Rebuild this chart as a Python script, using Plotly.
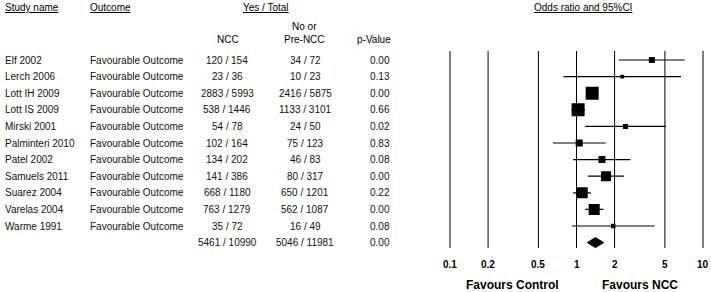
import math
import plotly.graph_objects as go

# ---------------- data ----------------
studies = ["Elf 2002", "Lerch 2006", "Lott IH 2009", "Lott IS 2009", "Mirski 2001",
           "Palminteri 2010", "Patel 2002", "Samuels 2011", "Suarez 2004",
           "Varelas 2004", "Warme 1991"]
outcomes = ["Favourable Outcome"] * 11
ncc_counts = ["120 / 154", "23 / 36", "2883 / 5993", "538 / 1446", "54 / 78",
              "102 / 164", "134 / 202", "141 / 386", "668 / 1180", "763 / 1279",
              "35 / 72", "5461 / 10990"]
pre_counts = ["34 / 72", "10 / 23", "2416 / 5875", "1133 / 3101", "24 / 50",
              "75 / 123", "46 / 83", "80 / 317", "650 / 1201", "562 / 1087",
              "16 / 49", "5046 / 11981"]
p_values = ["0.00", "0.13", "0.00", "0.66", "0.02", "0.83", "0.08", "0.00",
            "0.22", "0.00", "0.08", "0.00"]
odds_ratio = [3.94, 2.30, 1.33, 1.03, 2.44, 1.05, 1.59, 1.71, 1.11, 1.38, 1.95]
ci_lower = [2.16, 0.79, 1.23, 0.91, 1.17, 0.65, 0.94, 1.23, 0.94, 1.17, 0.92]
ci_upper = [7.17, 6.70, 1.43, 1.17, 5.08, 1.70, 2.67, 2.37, 1.30, 1.63, 4.15]
rel_weight = [4.1, 1.6, 19.4, 19.4, 2.9, 5.6, 5.6, 11.5, 13.9, 13.9, 2.3]
summary_or = 1.41
summary_lo = 1.22
summary_hi = 1.64
tick_vals = [0.1, 0.2, 0.5, 1, 2, 5, 10]
tick_labels = ["0.1", "0.2", "0.5", "1", "2", "5", "10"]

# ---------------- layout helpers ----------------
W, H = 711, 292
FONT = "Liberation Sans, Arial, sans-serif"
TXT = "#111111"
ROW0_PX, ROW_PX = 60.0, 16.6


def row_of(px):
    return (px - ROW0_PX) / ROW_PX


n = len(studies)
rows = list(range(n))
sum_row = n

fig = go.Figure()

# reference lines
lx, ly = [], []
for v in tick_vals:
    lx += [v, v, None]
    ly += [row_of(51), row_of(248), None]
fig.add_trace(go.Scatter(x=lx, y=ly, mode="lines",
                         line=dict(color="#000000", width=1),
                         hoverinfo="skip", showlegend=False))

# CI lines
cx, cy = [], []
for r, lo, hi in zip(rows, ci_lower, ci_upper):
    cx += [lo, hi, None]
    cy += [r, r, None]
fig.add_trace(go.Scatter(x=cx, y=cy, mode="lines",
                         line=dict(color="#000000", width=1.2),
                         hoverinfo="skip", showlegend=False))

# squares
max_w = max(rel_weight)
sizes = [13.0 * (w / max_w) ** 0.5 for w in rel_weight]
fig.add_trace(go.Scatter(x=odds_ratio, y=rows, mode="markers",
                         marker=dict(symbol="square", size=sizes, color="#000000",
                                     opacity=1, line=dict(width=0)),
                         showlegend=False))

# summary diamond
h = 5.0 / ROW_PX
fig.add_trace(go.Scatter(x=[summary_lo, summary_or, summary_hi, summary_or, summary_lo],
                         y=[sum_row, sum_row - h, sum_row, sum_row + h, sum_row],
                         mode="lines", fill="toself", fillcolor="#000000",
                         line=dict(color="#000000", width=1), showlegend=False))

ann = []


def add_text(text, xpx, ypx_row, anchor="left", size=10, bold=False, color=TXT):
    t = f"<b>{text}</b>" if bold else text
    ann.append(dict(text=t, x=xpx / W, xref="paper", y=ypx_row, yref="y",
                    xanchor=anchor, yanchor="middle", showarrow=False,
                    font=dict(family=FONT, size=size, color=color)))


# headers
add_text("<u>Study name</u>", 3, row_of(7), "left", color="#000")
add_text("<u>Outcome</u>", 88, row_of(7), "left", color="#000")
add_text("<u>Yes / Total</u>", 266, row_of(7), "center", color="#000")
add_text("<u>Odds ratio and 95%CI</u>", 582.5, row_of(7), "center", color="#000")
add_text("NCC", 228, row_of(39), "center", color="#000")
add_text("No or<br>Pre-NCC", 304, row_of(32.5), "center", color="#000")
add_text("p-Value", 374, row_of(39), "center", color="#000")

# table rows
for r in rows:
    add_text(studies[r], 3, r, "left")
    add_text(outcomes[r], 88, r, "left")
for r in range(n + 1):
    add_text(ncc_counts[r], 227, r, "center")
    add_text(pre_counts[r], 305, r, "center")
    add_text(p_values[r], 392, r, "right")

# tick labels (log axis: annotation x is given in log10 units)
for v, lab in zip(tick_vals, tick_labels):
    ann.append(dict(text=f"<b>{lab}</b>", x=math.log10(v), xref="x", y=row_of(264), yref="y",
                    xanchor="center", yanchor="middle", showarrow=False,
                    font=dict(family=FONT, size=10, color="#000")))

add_text("Favours Control", 512, row_of(285), "center", size=12, bold=True, color="#000")
add_text("Favours NCC", 640, row_of(285), "center", size=12, bold=True, color="#000")

x_lo, x_hi = -1.1, 1.05
px_per_dec = 126.5
left_px = 450 - (-1 - x_lo) * px_per_dec
right_px = 703 + (x_hi - 1) * px_per_dec

fig.update_layout(
    width=W, height=H,
    margin=dict(l=0, r=0, t=0, b=0),
    paper_bgcolor="white", plot_bgcolor="white",
    annotations=ann,
    xaxis=dict(type="log", range=[x_lo, x_hi], domain=[left_px / W, right_px / W],
               visible=False, showgrid=False, zeroline=False),
    yaxis=dict(range=[row_of(H), row_of(0)], domain=[0, 1], visible=False,
               showgrid=False, zeroline=False),
    showlegend=False,
)

fig.write_html("out.html", config={"displayModeBar": False},
               post_script="document.body.style.margin='0';document.body.style.padding='0';")
